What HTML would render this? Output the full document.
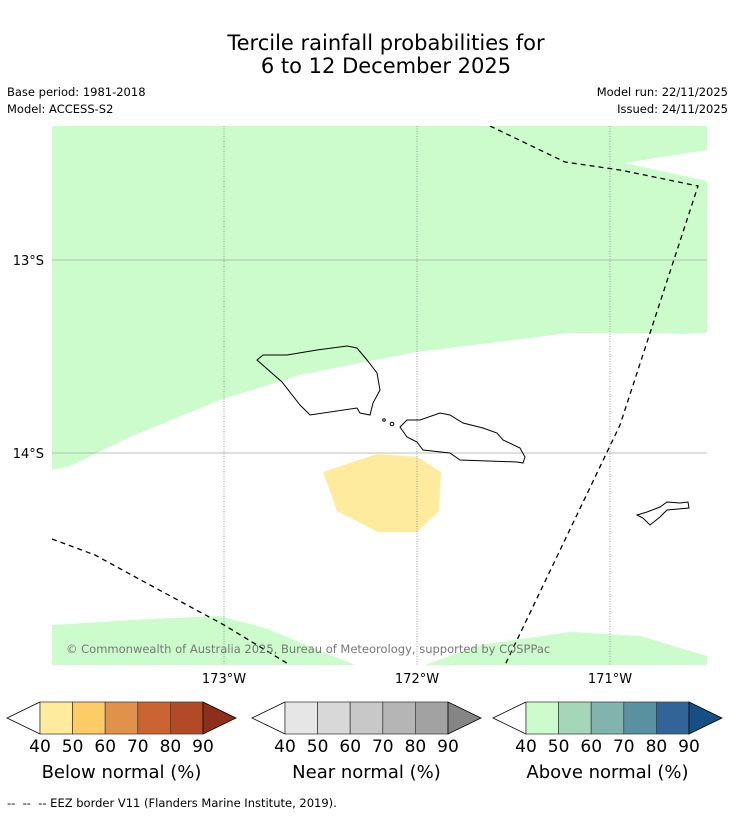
<!DOCTYPE html>
<html><head><meta charset="utf-8"><style>
body{margin:0;background:#fff;width:736px;height:816px;overflow:hidden;font-family:"DejaVu Sans","Liberation Sans",sans-serif}
svg{position:absolute;left:0;top:0}
</style></head><body>
<svg id="s" width="736" height="816" xmlns="http://www.w3.org/2000/svg" font-family="DejaVu Sans, Liberation Sans, sans-serif">
<text x="386" y="50" font-size="21" text-anchor="middle">Tercile rainfall probabilities for</text>
<text x="386" y="73" font-size="21" text-anchor="middle">6 to 12 December 2025</text>
<text x="7" y="96" font-size="11.5">Base period: 1981-2018</text>
<text x="7" y="113" font-size="11.5">Model: ACCESS-S2</text>
<text x="728" y="96" font-size="11.5" text-anchor="end">Model run: 22/11/2025</text>
<text x="728" y="113" font-size="11.5" text-anchor="end">Issued: 24/11/2025</text>
<g id="map">
<clipPath id="cp"><rect x="52" y="126" width="655" height="539"/></clipPath>
<g clip-path="url(#cp)">
<polygon fill="#ccfccc" points="52,126 707,126 707,150 625,163 707,181 707,333 680,334 650,333 570,333 417,352 300,375 220,400 130,437 70,466 52,470"/>
<polygon fill="#ccfccc" points="52,625 150,619 220,616 265,628 355,665 52,665"/>
<polygon fill="#ccfccc" points="425,665 480,645 570,632 640,636 707,656 707,665"/>
<polygon fill="#ffeb9d" points="323,472 377,454 417,457 441,472 439,511 417,532 378,532 337,511"/>
<g id="grid"></g>
<path fill="none" stroke="#000" stroke-width="1" d="M257,360 263,355 287,355 317,350 347,346 357,348 367,360 377,373 380,390 373,403 370,415 360,413 357,408 310,415 300,405 282,382Z"/>
<path fill="none" stroke="#000" stroke-width="1" d="M400,427 407,420 420,420 440,413 450,415 463,423 483,428 497,433 503,440 520,448 525,457 523,463 517,462 460,460 450,453 423,450 417,442 407,437Z"/>
<circle cx="384" cy="420" r="1.3" fill="none" stroke="#000"/>
<circle cx="392" cy="424" r="1.8" fill="none" stroke="#000"/>
<path fill="none" stroke="#000" stroke-width="1" d="M637,515 647,512 660,507 667,502 680,503 688,502 689,508 667,510 660,517 650,525 643,518Z"/>
<polyline fill="none" stroke="#000" stroke-width="1.3" stroke-dasharray="5,4" points="490,126 565,162 620,170 698,186 620,425 505,665"/>
<polyline fill="none" stroke="#000" stroke-width="1.3" stroke-dasharray="5,4" points="52,539 95,555 150,585 224,625 290,665"/>
</g>
<text x="66" y="653" font-size="11.5" fill="#777">© Commonwealth of Australia 2025, Bureau of Meteorology, supported by COSPPac</text>
</g>
<g id="axes"></g>
<g id="cbars"></g>
<text x="7" y="807" font-size="11.5" xml:space="preserve">--  --  -- EEZ border V11 (Flanders Marine Institute, 2019).</text>
</svg>
<script>
const lonTicks=[-173,-172,-171];
const lonLabels=["173°W","172°W","171°W"];
const latTicks=[-13,-14];
const latLabels=["13°S","14°S"];
const cbTicks=[40,50,60,70,80,90];
const belowColors=["#ffeb9d","#fecc66","#e0924a","#cc6333","#b24a28","#8e2f1c"];
const nearColors=["#e6e6e6","#d8d8d8","#c8c8c8","#b5b5b5","#a2a2a2","#858585"];
const aboveColors=["#ccfccc","#a6d6b8","#80b4ad","#5a91a0","#336497","#164e86"];
const cbTitles=["Below normal (%)","Near normal (%)","Above normal (%)"];
const cbStarts=[40,285,526];
const NS="http://www.w3.org/2000/svg";
function xLon(l){return 224+(l+173)*193;}
function yLat(l){return 260+(-13-l)*193;}
function mk(t,a,p){const e=document.createElementNS(NS,t);for(const k in a)e.setAttribute(k,a[k]);p.appendChild(e);return e;}
const grid=document.getElementById('grid'),axes=document.getElementById('axes');
lonTicks.forEach((l,i)=>{
 const x=xLon(l);
 const g=mk('line',{x1:x,x2:x,y1:126,y2:665,stroke:'#888','stroke-width':0.8,'stroke-dasharray':'1,1.5'},grid);
 
 
 const t=mk('text',{x:x,y:683,'font-size':13,'text-anchor':'middle'},axes);t.textContent=lonLabels[i];
 
 
});
latTicks.forEach((l,i)=>{
 const y=yLat(l);
 const g=mk('line',{x1:52,x2:707,y1:y,y2:y,stroke:'#aaa','stroke-width':0.8},grid);
 
 
 const t=mk('text',{x:44,y:y+5,'font-size':13,'text-anchor':'end'},axes);t.textContent=latLabels[i];
 
 
});
const cb=document.getElementById('cbars');
[belowColors,nearColors,aboveColors].forEach((cols,j)=>{
 const x0=cbStarts[j],w=163/(cbTicks.length-1),y0=702,h=32;
 const g=mk('g',{},cb);
 
 
 const lt=mk('polygon',{points:`${x0},${y0} ${x0-33},${y0+h/2} ${x0},${y0+h}`,fill:'#fff',stroke:'#000','stroke-width':0.8},g);
 
 
 for(let k=0;k<cbTicks.length-1;k++){
  const r=mk('rect',{x:x0+k*w,y:y0,width:w,height:h,fill:cols[k],stroke:'#444','stroke-width':0.8},g);
  
  
 }
 const xe=x0+163;
 const rt=mk('polygon',{points:`${xe},${y0} ${xe+33},${y0+h/2} ${xe},${y0+h}`,fill:cols[5],stroke:'#000','stroke-width':0.8},g);
 
 
 cbTicks.forEach((v,k)=>{
  const t=mk('text',{x:x0+k*w,y:752,'font-size':17,'text-anchor':'middle'},g);t.textContent=v;
  
  
 });
 const tt=mk('text',{x:x0+81.5,y:778,'font-size':18,'text-anchor':'middle'},g);tt.textContent=cbTitles[j];
 
 
});
</script>
</body></html>
